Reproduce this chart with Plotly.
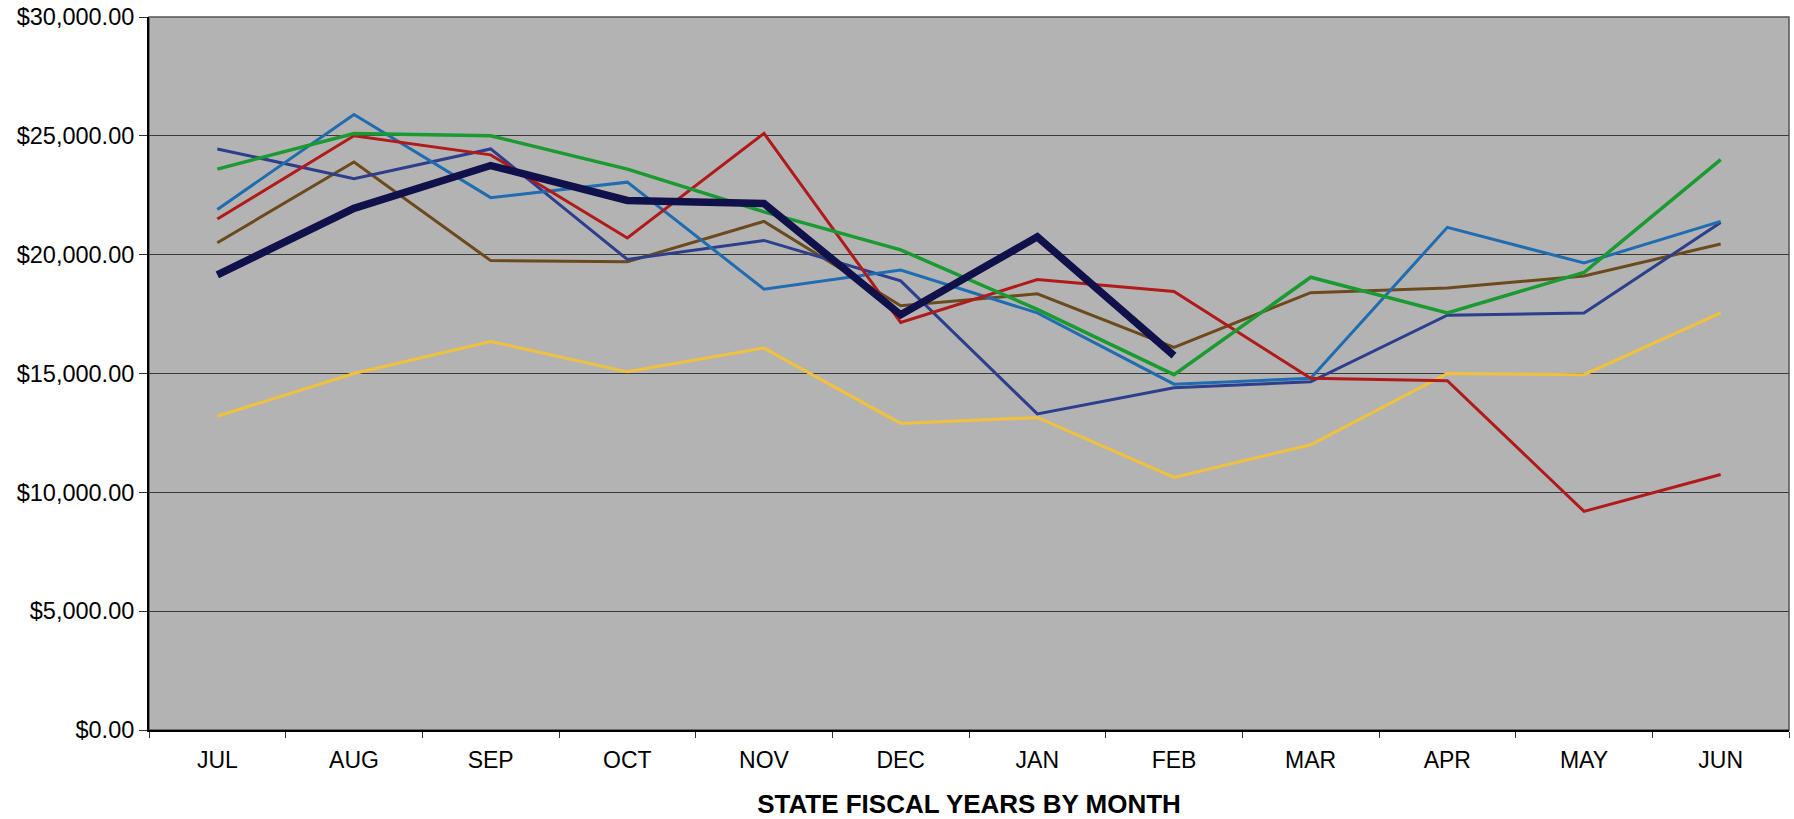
import plotly.graph_objects as go

months = ["JUL", "AUG", "SEP", "OCT", "NOV", "DEC", "JAN", "FEB", "MAR", "APR", "MAY", "JUN"]

yr_yellow = [13200, 15000, 16350, 15070, 16070, 12900, 13150, 10630, 12000, 15000, 14950, 17550]
yr_brown = [20500, 23900, 19750, 19700, 21400, 17850, 18350, 16100, 18400, 18600, 19100, 20450]
yr_navy = [24450, 23200, 24450, 19800, 20600, 18900, 13300, 14400, 14650, 17450, 17550, 21350]
yr_steel = [21900, 25900, 22400, 23050, 18550, 19350, 17550, 14550, 14800, 21150, 19650, 21400]
yr_red = [21500, 25000, 24200, 20700, 25100, 17150, 18950, 18450, 14800, 14700, 9200, 10750]
yr_green = [23600, 25100, 25000, 23600, 21800, 20200, 17700, 14950, 19050, 17550, 19250, 24000]
yr_current = [19150, 21950, 23750, 22280, 22150, 17470, 20750, 15750]

series = [
    ("Year 1", yr_yellow, "#f0c23c", 3),
    ("Year 2", yr_brown, "#6b4a1e", 3),
    ("Year 3", yr_navy, "#2c3e8c", 3),
    ("Year 4", yr_steel, "#1f6cb0", 3),
    ("Year 5", yr_red, "#b01a1a", 3),
    ("Year 6", yr_green, "#1a9a30", 3.5),
    ("Current Year", yr_current, "#10104a", 7.5),
]

fig = go.Figure()
for name, vals, color, w in series:
    fig.add_trace(go.Scatter(
        x=months[:len(vals)], y=vals, mode="lines", name=name,
        line=dict(color=color, width=w, shape="linear"),
    ))

font_family = "Liberation Sans, Arial, sans-serif"

fig.update_layout(
    width=1794, height=819,
    margin=dict(l=149, r=5, t=17, b=89, autoexpand=False),
    paper_bgcolor="white",
    plot_bgcolor="#b3b3b3",
    showlegend=False,
    font=dict(family=font_family, color="black", size=23),
    xaxis=dict(
        type="category",
        categoryorder="array", categoryarray=months,
        range=[-0.5, 11.5],
        automargin=False,
        tickson="boundaries",
        ticks="outside", ticklen=6, tickcolor="#333",
        ticklabelstandoff=8,
        showgrid=False,
        showline=True, linecolor="black", linewidth=2,
        tickfont=dict(size=23),
        title=dict(text="<b>STATE FISCAL YEARS BY MONTH</b>", font=dict(size=26), standoff=36),
    ),
    yaxis=dict(
        range=[0, 30000], dtick=5000, tick0=0,
        tickformat="$,.2f",
        automargin=False,
        ticks="outside", ticklen=8, tickcolor="#333",
        ticklabeloverflow="allow",
        showgrid=True, gridcolor="#3a3a3a", gridwidth=1,
        showline=True, linecolor="black", linewidth=2,
        tickfont=dict(size=23.5),
        zeroline=False,
    ),
    shapes=[dict(type="rect", xref="paper", yref="paper", x0=0, x1=1, y0=0, y1=1,
                 line=dict(color="#555555", width=1.5), layer="below")],
)

fig.write_html(
    "out.html",
    config={"displayModeBar": False},
    post_script="document.body.style.margin='0';document.body.style.overflow='hidden';",
)
